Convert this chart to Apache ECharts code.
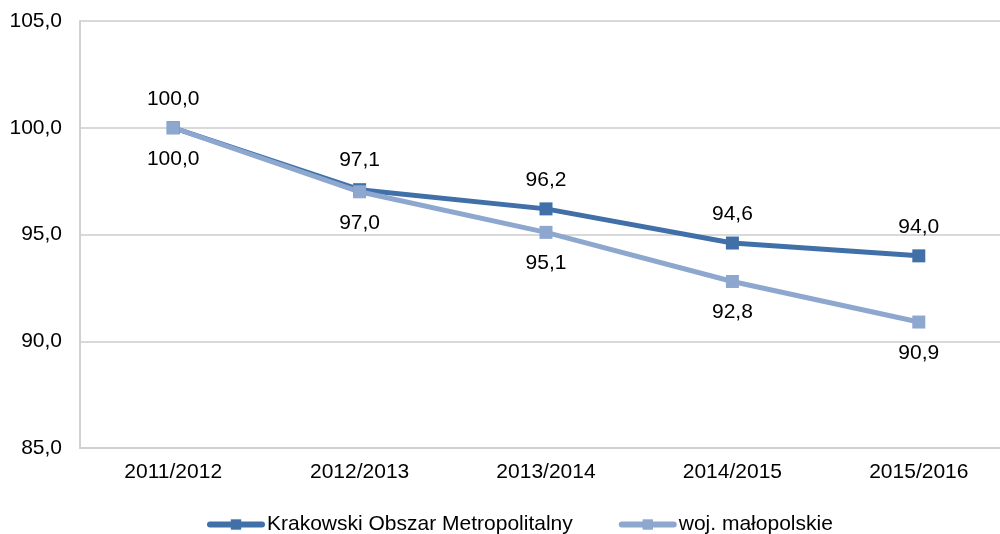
<!DOCTYPE html>
<html>
<head>
<meta charset="utf-8">
<script src="https://cdn.jsdelivr.net/npm/echarts@6/dist/echarts.min.js"></script>
<style>
  html, body { margin: 0; padding: 0; background: #fff; overflow: hidden; }
  #chart { width: 1012px; height: 534px; }
</style>
</head>
<body>
<div id="chart"></div>
<script>
// School years on the category axis
const categories = ['2011/2012', '2012/2013', '2013/2014', '2014/2015', '2015/2016'];
// Index values (2011/2012 = 100)
const krakow = [100.0, 97.1, 96.2, 94.6, 94.0];
const malopolskie = [100.0, 97.0, 95.1, 92.8, 90.9];
const seriesNames = ['Krakowski Obszar Metropolitalny', 'woj. małopolskie'];

const fmt = v => v.toFixed(1).replace('.', ',');
const font = 'Liberation Sans, Arial, sans-serif';
const fs = 21;

const chart = echarts.init(document.getElementById('chart'));
chart.setOption({
  animation: false,
  textStyle: { fontFamily: font },
  grid: { left: 80, right: 0, top: 21, height: 427, containLabel: false },
  xAxis: {
    type: 'category',
    data: categories,
    boundaryGap: true,
    axisLine: { lineStyle: { color: '#d0d0d0', width: 2 } },
    axisTick: { show: false },
    axisLabel: { color: '#000', fontSize: fs, margin: 14, fontFamily: font }
  },
  yAxis: {
    type: 'value',
    min: 85, max: 105, interval: 5,
    axisLine: { show: true, lineStyle: { color: '#d0d0d0', width: 2 } },
    axisTick: { show: false },
    splitLine: { lineStyle: { color: '#d9d9d9', width: 2 } },
    axisLabel: { color: '#000', fontSize: fs, margin: 18, fontFamily: font, formatter: v => fmt(v) }
  },
  legend: {
    top: 514,
    left: 207,
    padding: 0,
    itemWidth: 52,
    itemHeight: 13,
    itemGap: 46,
    lineStyle: { width: 6, cap: 'round' },
    textStyle: { color: '#000', fontSize: fs, fontFamily: font, padding: [0, 0, 0, 0] },
    data: seriesNames
  },
  series: [
    {
      name: seriesNames[0],
      type: 'line',
      data: krakow,
      symbol: 'rect',
      symbolSize: 13,
      lineStyle: { color: '#4170a8', width: 5 },
      itemStyle: { color: '#4170a8' },
      label: { show: true, position: 'top', distance: 12, color: '#000', fontSize: fs, fontFamily: font, formatter: p => fmt(p.value) }
    },
    {
      name: seriesNames[1],
      type: 'line',
      data: malopolskie,
      symbol: 'rect',
      symbolSize: 13,
      lineStyle: { color: '#8ea7cf', width: 5 },
      itemStyle: { color: '#8ea7cf' },
      label: { show: true, position: 'bottom', distance: 14, color: '#000', fontSize: fs, fontFamily: font, formatter: p => fmt(p.value) }
    }
  ]
});
</script>
</body>
</html>
